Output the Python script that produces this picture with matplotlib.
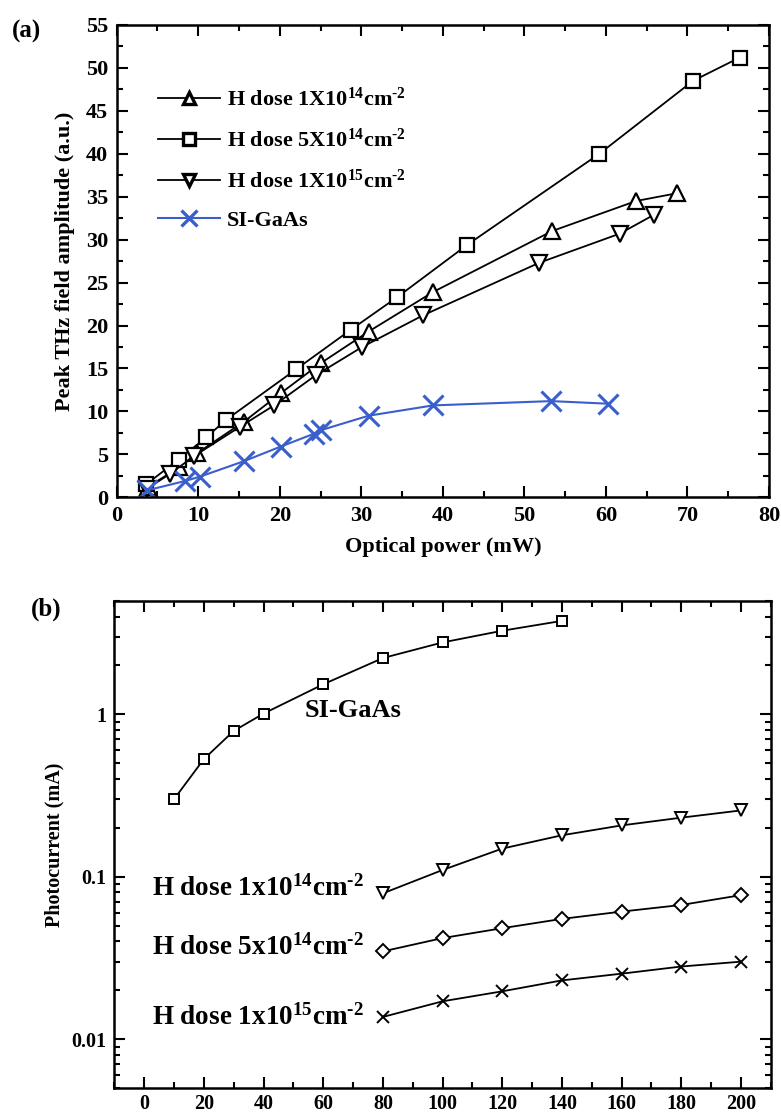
import matplotlib
matplotlib.use("Agg")
import matplotlib.pyplot as plt
from matplotlib.ticker import MultipleLocator, LogLocator, NullFormatter, FixedLocator, FixedFormatter

plt.rcParams['font.family'] = ['Liberation Serif', 'DejaVu Serif']
plt.rcParams['font.weight'] = 'bold'
plt.rcParams['mathtext.fontset'] = 'custom'
plt.rcParams['mathtext.rm'] = 'Liberation Serif:bold'
plt.rcParams['mathtext.default'] = 'rm'

# ---- Panel (a) data ----
p_up = [3.8, 7.7, 9.8, 15.6, 20.1, 25.0, 30.9, 38.8, 53.4, 63.7, 68.7]
amp_up = [1.2, 3.5, 5.1, 8.8, 12.1, 15.6, 19.3, 23.9, 31.0, 34.5, 35.4]
p_sq = [3.6, 7.6, 11.0, 13.4, 22.0, 28.7, 34.4, 43.0, 59.2, 70.7, 76.4]
amp_sq = [1.5, 4.4, 7.0, 9.0, 14.9, 19.5, 23.3, 29.4, 40.0, 48.5, 51.2]
p_dn = [3.7, 6.5, 9.5, 15.1, 19.3, 24.4, 30.1, 37.6, 51.8, 61.7, 65.9]
amp_dn = [1.0, 2.7, 4.8, 8.2, 10.7, 14.2, 17.5, 21.2, 27.3, 30.7, 32.9]
p_si = [3.7, 8.4, 10.2, 15.6, 20.1, 24.2, 25.0, 30.9, 38.8, 53.3, 60.2]
amp_si = [0.8, 1.9, 2.4, 4.2, 5.9, 7.4, 7.8, 9.5, 10.7, 11.2, 10.9]

labels_a = [r"H dose 1X10$^{14}$cm$^{\text{-2}}$", r"H dose 5X10$^{14}$cm$^{\text{-2}}$",
            r"H dose 1X10$^{15}$cm$^{\text{-2}}$", "SI-GaAs"]

# ---- Panel (b) data ----
v_si = [10, 20, 30, 40, 60, 80, 100, 120, 140]
i_si = [0.30, 0.53, 0.79, 1.01, 1.53, 2.22, 2.77, 3.27, 3.76]
v_h = [80, 100, 120, 140, 160, 180, 200]
i_1e14 = [0.079, 0.110, 0.149, 0.180, 0.207, 0.231, 0.256]
i_5e14 = [0.0347, 0.0419, 0.0482, 0.055, 0.061, 0.067, 0.077]
i_1e15 = [0.0137, 0.0171, 0.0197, 0.023, 0.0253, 0.028, 0.030]
labels_b = ["SI-GaAs", r"H dose 1x10$^{14}$cm$^{\text{-2}}$", r"H dose 5x10$^{14}$cm$^{\text{-2}}$",
            r"H dose 1x10$^{15}$cm$^{\text{-2}}$"]

blue = '#3a5fcd'

fig = plt.figure(figsize=(7.81, 11.14), dpi=100)

# ---------------- Panel (a) ----------------
ax = fig.add_axes([0.1494, 0.5536, 0.8352, 0.424])
kw = dict(color='black', lw=1.3, mfc='white', mec='black', mew=1.6)
ax.plot(p_up, amp_up, marker='^', ms=11, label=labels_a[0], **kw)
ax.plot(p_sq, amp_sq, marker='s', ms=10, label=labels_a[1], **kw)
ax.plot(p_dn, amp_dn, marker='v', ms=11, label=labels_a[2], **kw)
ax.plot(p_si, amp_si, marker='x', ms=14, color=blue, lw=1.5, mew=2.2, label=labels_a[3])
ax.set_xlim(0, 80)
ax.set_ylim(0, 55)
ax.xaxis.set_major_locator(MultipleLocator(10))
ax.xaxis.set_minor_locator(MultipleLocator(5))
ax.yaxis.set_major_locator(MultipleLocator(5))
ax.yaxis.set_minor_locator(MultipleLocator(2.5))
ax.tick_params(which='both', direction='in', top=True, right=True, width=1.5, labelsize=16)
ax.tick_params(which='major', length=8)
ax.tick_params(which='minor', length=4)
ax.tick_params(axis='x', pad=6)
ax.tick_params(axis='y', pad=6)
for s in ax.spines.values():
    s.set_linewidth(1.8)
ax.set_xlabel("Optical power (mW)", fontsize=16, fontweight='bold', labelpad=8)
ax.set_ylabel("Peak THz field amplitude (a.u.)", fontsize=16, fontweight='bold', labelpad=8)
leg = ax.legend(loc='upper left', bbox_to_anchor=(0.063, 0.868), frameon=False, fontsize=16,
                handlelength=2.8, handletextpad=0.3, labelspacing=0.8, borderaxespad=0,
                borderpad=0, markerscale=0.85)
for h in leg.legend_handles:
    h.set_markeredgewidth(2.4)
fig.text(0.015, 0.972, "(a)", fontsize=18, fontweight='bold', va='center')

# ---------------- Panel (b) ----------------
bx = fig.add_axes([0.1464, 0.0233, 0.8405, 0.4374])
kb = dict(color='black', lw=1.3, mfc='white', mec='black', mew=1.4)
bx.plot(v_si, i_si, marker='s', ms=7.5, **kb)
bx.plot(v_h, i_1e14, marker='v', ms=9, **kb)
bx.plot(v_h, i_5e14, marker='D', ms=7.5, **kb)
bx.plot(v_h, i_1e15, marker='x', ms=9, **kb)
bx.set_yscale('log')
bx.set_xlim(-10, 210)
bx.set_ylim(0.005, 5)
bx.xaxis.set_major_locator(MultipleLocator(20))
bx.xaxis.set_minor_locator(MultipleLocator(10))
bx.yaxis.set_major_locator(FixedLocator([0.01, 0.1, 1]))
bx.yaxis.set_major_formatter(FixedFormatter(["0.01", "0.1", "1"]))
bx.yaxis.set_minor_locator(LogLocator(base=10, subs=range(2, 10)))
bx.yaxis.set_minor_formatter(NullFormatter())
bx.tick_params(which='both', direction='in', top=True, right=True, width=1.5, labelsize=14.5)
bx.tick_params(which='major', length=8)
bx.tick_params(which='minor', length=4)
bx.tick_params(axis='x', pad=4)
bx.tick_params(axis='y', pad=6)
for s in bx.spines.values():
    s.set_linewidth(1.8)
bx.set_ylabel("Photocurrent (mA)", fontsize=14.5, fontweight='bold', labelpad=5)
bx.text(0.29, 0.761, labels_b[0], transform=bx.transAxes, fontsize=19, fontweight='bold', va='baseline')
bx.text(0.057, 0.394, labels_b[1], transform=bx.transAxes, fontsize=19.5, fontweight='bold', va='baseline')
bx.text(0.057, 0.273, labels_b[2], transform=bx.transAxes, fontsize=19.5, fontweight='bold', va='baseline')
bx.text(0.057, 0.131, labels_b[3], transform=bx.transAxes, fontsize=19.5, fontweight='bold', va='baseline')
fig.text(0.04, 0.453, "(b)", fontsize=18, fontweight='bold', va='center')

fig.savefig("out.png", dpi=100)
